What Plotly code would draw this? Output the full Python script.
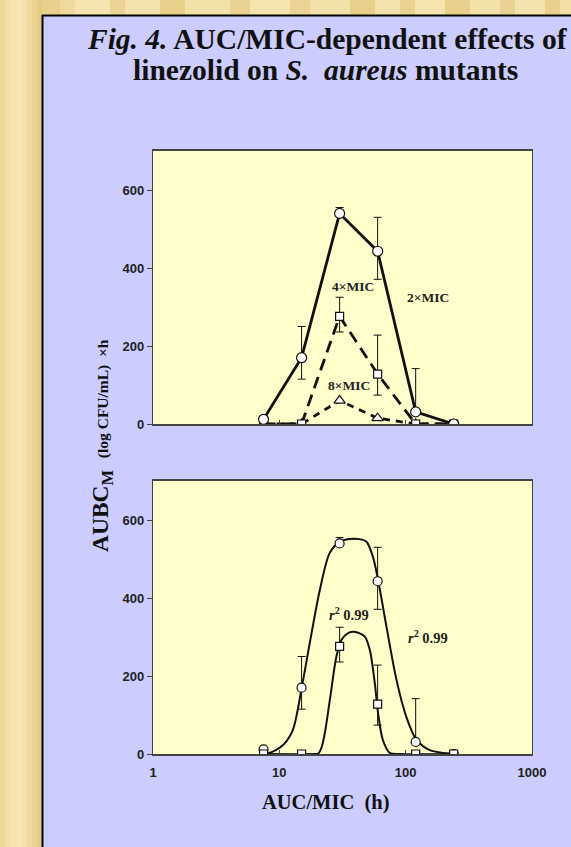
import plotly.graph_objects as go

W, H = 571, 847

# ---------------- data ----------------
auc_mic = [7.5, 15, 30, 60, 120, 240]

mic2_aubc = [12, 170, 540, 443, 31, 0]
mic2_err_up = [0, 80, 15, 87, 111, 0]
mic2_err_down = [0, 55, 0, 72, 0, 0]

mic4_aubc = [0, 0, 276, 128, 0, 0]
mic4_err_up = [0, 0, 49, 100, 0, 0]
mic4_err_down = [0, 0, 40, 54, 0, 0]

mic8_aubc = [0, 0, 60, 15, 0, 0]

# fitted curves
fit2_x = [7.5, 8.4, 10.7, 12.8, 15, 17.4, 20.9, 25, 30, 36, 43, 49, 55, 60.5, 70.5, 84.6, 101, 122, 155, 224]
fit2_y = [0, 3, 23, 62, 168, 284, 420, 515, 544, 551, 551, 544, 506, 446, 326, 190, 96, 36, 10, 1]

fit4_x = [7.5, 19, 20.3, 21.5, 22.9, 25.1, 28.3, 31, 35, 40, 47.5, 52, 57, 60.5, 66, 74.8, 90, 240]
fit4_y = [0, 0, 1, 15, 53, 138, 250, 292, 310, 313, 301, 267, 181, 104, 36, 3, 0, 0]

x_tick_vals = [1, 10, 100, 1000]
x_tick_text = ["1", "10", "100", "1000"]
y_tick_vals = [0, 200, 400, 600]
y_tick_text = ["0", "200", "400", "600"]

series_labels = ["2×MIC", "4×MIC", "8×MIC"]
fit_label = "<i>r</i><sup>2</sup> 0.99"

title_line1 = "<i>Fig. 4.</i> AUC/MIC-dependent effects of"
title_line2 = "linezolid on <i>S.&nbsp; aureus</i> mutants"
x_title = "AUC/MIC&nbsp; (h)"
y_title = ("AUBC<sub>M</sub>&nbsp; <span style='font-size:15.5px'>(log CFU/mL)&nbsp; ×h</span>")

# ---------------- helpers ----------------
def px(x):
    return x / W

def py(y):
    return 1 - y / H

BLACK = "#111111"
AXC = "#444444"
SERIF = "Liberation Serif"
SANS = "Liberation Sans"

fig = go.Figure()

def err(up, down):
    return dict(type="data", symmetric=False, array=up, arrayminus=down,
                color=BLACK, thickness=1, width=4)

# ---- top panel ----
fig.add_trace(go.Scatter(
    x=auc_mic, y=mic8_aubc, mode="lines+markers", xaxis="x", yaxis="y",
    line=dict(color=BLACK, width=2.8, dash="7px,6px"),
    marker=dict(symbol="triangle-up", size=10, color="white", line=dict(color=BLACK, width=1.2)),
    showlegend=False))
fig.add_trace(go.Scatter(
    x=auc_mic, y=mic4_aubc, mode="lines+markers", xaxis="x", yaxis="y",
    line=dict(color=BLACK, width=2.8, dash="12px,7px"),
    marker=dict(symbol="square", size=8, color="white", line=dict(color=BLACK, width=1.2)),
    error_y=err(mic4_err_up, mic4_err_down),
    showlegend=False))
fig.add_trace(go.Scatter(
    x=auc_mic, y=mic2_aubc, mode="lines+markers", xaxis="x", yaxis="y",
    line=dict(color=BLACK, width=2.8),
    marker=dict(symbol="circle", size=10, color="white", line=dict(color=BLACK, width=1.2)),
    error_y=err(mic2_err_up, mic2_err_down),
    showlegend=False))

# ---- bottom panel ----
fig.add_trace(go.Scatter(
    x=fit2_x, y=fit2_y, mode="lines", xaxis="x2", yaxis="y2",
    line=dict(color=BLACK, width=2, shape="spline", smoothing=0.8),
    showlegend=False, hoverinfo="skip"))
fig.add_trace(go.Scatter(
    x=fit4_x, y=fit4_y, mode="lines", xaxis="x2", yaxis="y2",
    line=dict(color=BLACK, width=2, shape="spline", smoothing=0.8),
    showlegend=False, hoverinfo="skip"))
fig.add_trace(go.Scatter(
    x=auc_mic, y=mic2_aubc, mode="markers", xaxis="x2", yaxis="y2",
    marker=dict(symbol="circle", size=9, color="white", line=dict(color=BLACK, width=1.2)),
    error_y=err(mic2_err_up, mic2_err_down),
    showlegend=False))
fig.add_trace(go.Scatter(
    x=auc_mic, y=mic4_aubc, mode="markers", xaxis="x2", yaxis="y2",
    marker=dict(symbol="square", size=8, color="white", line=dict(color=BLACK, width=1.2)),
    error_y=err(mic4_err_up, mic4_err_down),
    showlegend=False))

xdom = [px(153), px(532)]
common_x = dict(type="log", range=[0, 3], domain=xdom, tickvals=x_tick_vals, ticktext=x_tick_text,
                ticks="inside", ticklen=4, tickcolor=AXC, linecolor=AXC, linewidth=1.5,
                mirror=True, showgrid=False, zeroline=False, ticklabelstandoff=6,
                tickfont=dict(family=SANS, size=13, color="#222222", weight="bold"))
common_y = dict(range=[0, 700], tickvals=y_tick_vals, ticktext=y_tick_text,
                ticks="outside", ticklen=5, tickcolor=AXC, linecolor=AXC, linewidth=1.2,
                mirror=True, showgrid=False, zeroline=False,
                tickfont=dict(family=SANS, size=13, color="#222222", weight="bold"))

fig.update_layout(
    width=W, height=H,
    margin=dict(l=0, r=0, t=0, b=0, autoexpand=False),
    paper_bgcolor="#CCCCFF",
    plot_bgcolor="#FFFFCC",
    xaxis=dict(common_x, anchor="y", showticklabels=False),
    yaxis=dict(common_y, anchor="x", domain=[py(424), py(151)]),
    xaxis2=dict(common_x, anchor="y2", showticklabels=True),
    yaxis2=dict(common_y, anchor="x2", domain=[py(754), py(481)]),
    showlegend=False,
)

# ---- decorative golden frame ----
shapes = []
left_stripes = [(0, 5, '#EFDA9E'), (5, 10, '#F2DFA7'), (10, 16, '#F5E4AF'), (16, 22, '#F6E6B3'),
                (22, 27, '#F3E0A8'), (27, 32, '#EFD99C'), (32, 37, '#EAD291'), (37, 43, '#E4CA84')]
for a, b, c in left_stripes:
    shapes.append(dict(type="rect", xref="paper", yref="paper", x0=px(a), x1=px(b), y0=0, y1=1,
                       fillcolor=c, line=dict(width=0), layer="above"))
top_stripes = [(42, 60, '#E9D08C'), (60, 75, '#EFD99C'), (75, 110, '#F5E4B0'), (110, 125, '#EBD393'),
               (125, 160, '#F4E2AC'), (160, 185, '#E8CF8A'), (185, 230, '#F3E1AA'), (230, 250, '#EAD291'),
               (250, 290, '#F5E4AF'), (290, 310, '#EBD395'), (310, 350, '#F3E1AA'), (350, 375, '#E8CF8A'),
               (375, 400, '#F4E2AD'), (400, 415, '#E9D18F'), (415, 445, '#F5E4B0'), (445, 470, '#E8CF8A'),
               (470, 500, '#F3E1AA'), (500, 515, '#EAD292'), (515, 545, '#F4E3AE'), (545, 560, '#E9D08D'),
               (560, 571, '#F2DFA6')]
for a, b, c in top_stripes:
    shapes.append(dict(type="rect", xref="paper", yref="paper", x0=px(a), x1=px(b), y0=py(15), y1=1,
                       fillcolor=c, line=dict(width=0), layer="above"))
shapes.append(dict(type="line", xref="paper", yref="paper", x0=px(42.5), x1=px(42.5), y0=0, y1=py(15),
                   line=dict(color="black", width=2), layer="above"))
shapes.append(dict(type="line", xref="paper", yref="paper", x0=px(42), x1=1, y0=py(15.5), y1=py(15.5),
                   line=dict(color="black", width=2), layer="above"))
fig.update_layout(shapes=shapes)

# ---- annotations ----
ann = []
ann.append(dict(xref="paper", yref="paper", x=px(327), y=py(39), text="<b>" + title_line1 + "</b>",
                showarrow=False, xanchor="center", yanchor="middle",
                font=dict(family=SERIF, size=29.5, color="#111111")))
ann.append(dict(xref="paper", yref="paper", x=px(325), y=py(70), text="<b>" + title_line2 + "</b>",
                showarrow=False, xanchor="center", yanchor="middle",
                font=dict(family=SERIF, size=29.5, color="#111111")))
ann.append(dict(xref="paper", yref="paper", x=px(326), y=py(802), text="<b>" + x_title + "</b>",
                showarrow=False, xanchor="center", yanchor="middle",
                font=dict(family=SERIF, size=20.5, color="#111111")))
ann.append(dict(xref="paper", yref="paper", x=px(102), y=py(445), text="<b>" + y_title + "</b>",
                showarrow=False, xanchor="center", yanchor="middle", textangle=-90,
                font=dict(family=SERIF, size=23.5, color="#111111")))

lab_font = dict(family=SERIF, size=13.5, color="#222222")
fit_font = dict(family=SERIF, size=14.5, color="#222222")
# top panel labels (x in log10 units)
ann.append(dict(xref="x", yref="y", x=1.581, y=353, text="<b>" + series_labels[1] + "</b>",
                showarrow=False, font=lab_font))
ann.append(dict(xref="x", yref="y", x=2.175, y=325, text="<b>" + series_labels[0] + "</b>",
                showarrow=False, font=lab_font))
ann.append(dict(xref="x", yref="y", x=1.549, y=100, text="<b>" + series_labels[2] + "</b>",
                showarrow=False, font=lab_font))
# bottom panel r^2 labels
ann.append(dict(xref="x2", yref="y2", x=1.55, y=359, text="<b>" + fit_label + "</b>",
                showarrow=False, font=fit_font))
ann.append(dict(xref="x2", yref="y2", x=2.175, y=301, text="<b>" + fit_label + "</b>",
                showarrow=False, font=fit_font))
fig.update_layout(annotations=ann)

fig.write_html("out.html", config={"displayModeBar": False},
               post_script="document.body.style.margin='0px';document.body.style.overflow='hidden';")
